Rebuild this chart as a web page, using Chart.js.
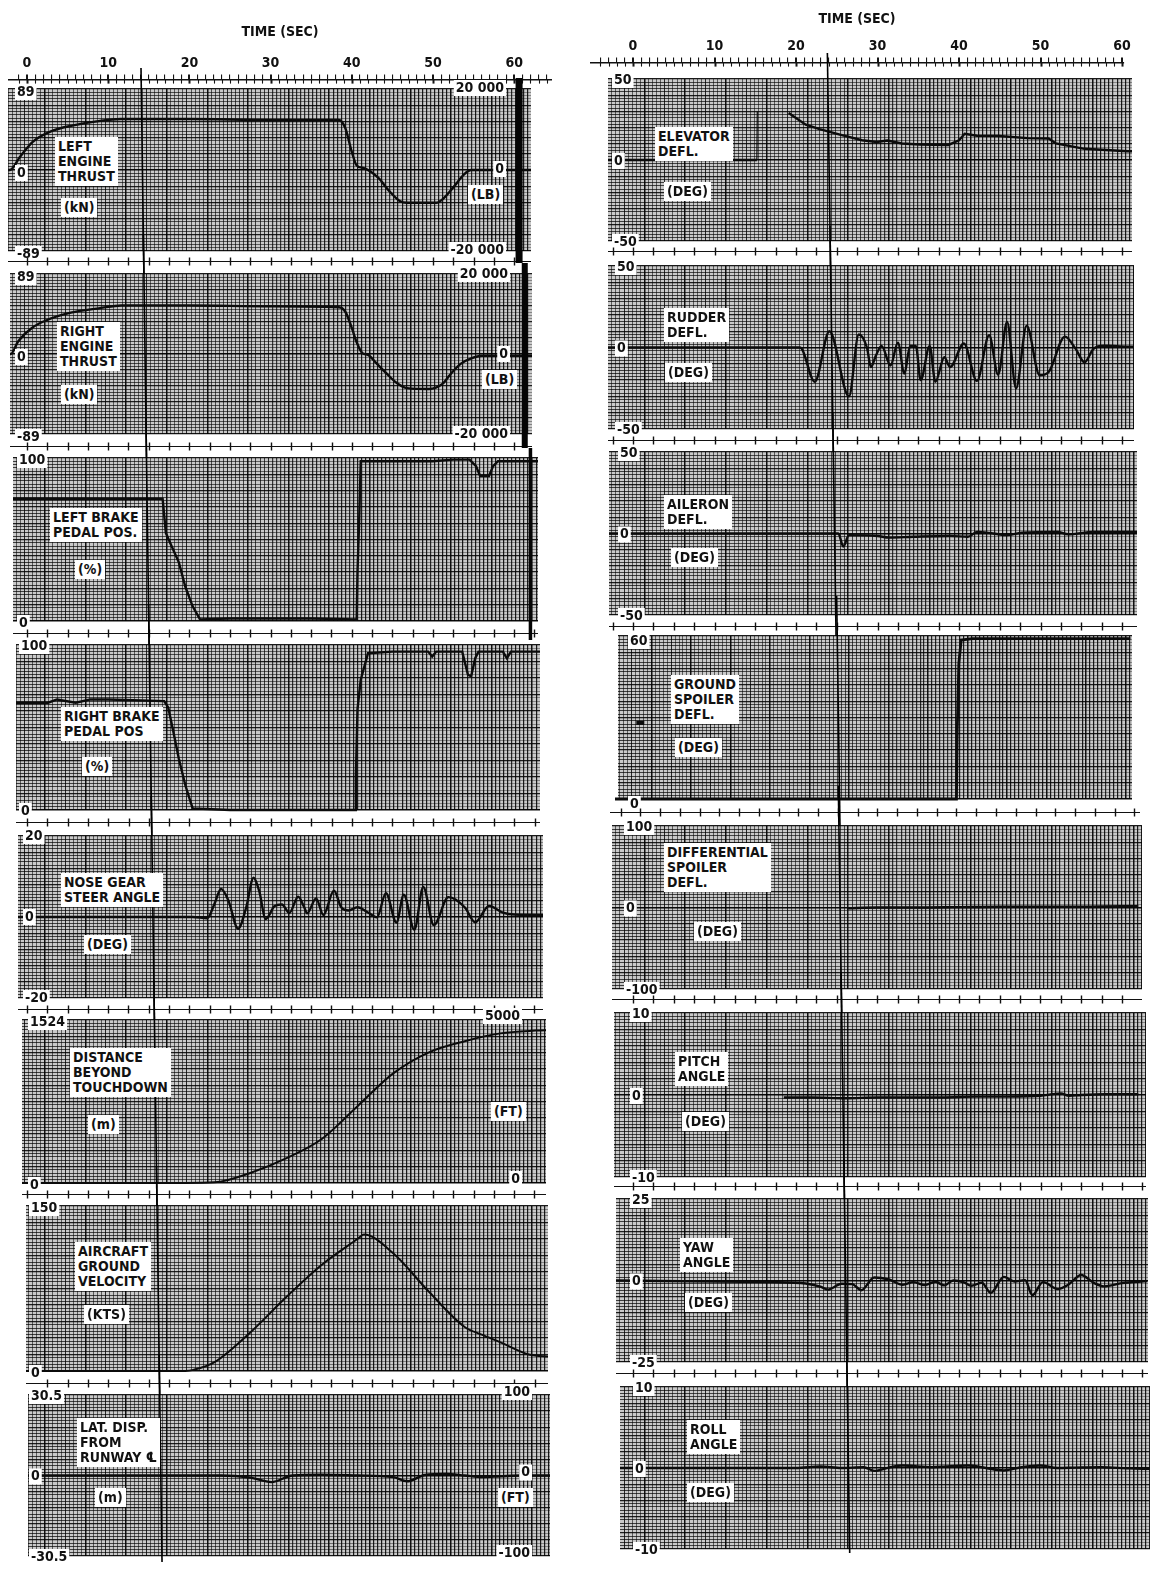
<!DOCTYPE html>
<html>
<head>
<meta charset="utf-8">
<title>Landing roll time histories</title>
<script src="https://cdn.jsdelivr.net/npm/chart.js@4.4.1/dist/chart.umd.min.js"></script>
<style>
  html, body { margin: 0; padding: 0; background: #fff; }
  body { position: relative; width: 1156px; height: 1569px; overflow: hidden; }
  canvas.trace { position: absolute; }
  .tag { position: absolute; z-index: 5; background: #fff; color: #111;
         font: bold 14px/15px 'DejaVu Sans Condensed', 'DejaVu Sans', sans-serif;
         padding: 2px 3px; white-space: pre; }
</style>
</head>
<body>
<script>
// ---- recorded channels: time (s) and channel value ----
const leftThrustTime  = [-2.4,-2.1,-0.9,0.7,2.8,5.7,9,11.5,20,30,38.4,39.2,40.0,40.6,41.5,43.3,44.6,45.9,46.8,50.4,51.2,52.6,53.8,54.7,58,64.5];
const leftThrustKN    = [0,0,14,31,42,49,54,56,56,55,55,46,20,5,2,-9,-23,-34,-36,-36,-32,-18,-5,0,0,0];
const rightThrustTime = [-2.4,-2.0,-1.1,0.6,2.8,5.4,9,11.6,20,30,38.4,39.2,40.0,40.6,41.3,42.0,42.9,44.2,45.5,46.8,49.5,51.2,52.1,53.4,54.7,56,64.5];
const rightThrustKN   = [0,0,14,29,39,46,51,54,54,53,52,47,29,13,1,-1,-9,-21,-32,-38,-39,-33,-23,-11,-5,-2,-2];
const leftBrakeTime   = [-2.4,16.7,17.1,17.8,18.7,19.5,20.4,21.3,25,30,35,40.6,40.7,40.9,41.1,45,50,52.5,54.5,55.3,55.8,56.9,57.4,58,62,64.5];
const leftBrakePct    = [75,75,54,46,36,21,9,1,1.5,1.5,1.5,1,30,60,98,98,98,99,99,95,89,89,95,98,98,98];
const rightBrakeTime  = [-2.4,2.6,3.7,6,7.8,10,16.9,17.4,18.0,18.7,19.5,20.4,25,30,35,40.4,40.5,40.7,41.1,42.0,45,49.4,49.9,50.4,53.6,54.3,54.7,55.2,55.6,58.6,59.1,59.6,64.5];
const rightBrakePct   = [65,65,67,65,67,67,66,62,48,31,15,1,0,0,0,0,20,61,79,95,96,96,93,96,96,82,81,92,96,96,92,96,96];
const noseGearTime    = [-2.4,5,10,15,20.4,22.2,23.1,23.9,24.8,26.0,27.0,27.9,28.6,29.4,30.5,31.4,32.3,33.4,34.1,34.5,35.6,36.5,37.8,38.7,39.6,40.7,42.0,43.1,44.2,45.5,46.4,47.7,48.8,50.1,51.9,53.9,55.2,56.9,58.7,60.0,64.5];
const noseGearDeg     = [0,0,0,0,0,-0.3,3.3,6.9,4.1,-2.9,2.4,9.7,6.4,-0.5,2.7,3.1,1.0,5.0,2.6,0.9,4.6,0.5,6.5,2.4,1.6,2.4,1.1,-0.1,5.9,-1.4,5.5,-3.1,7.4,-2.0,4.9,2.4,-1.3,2.7,1.0,0.6,0.5];
const distanceTime    = [-2.4,10,19.5,23.1,27.5,31.9,36.3,40.7,45.1,49.5,53.9,58.3,62.6,64.5];
const distanceM       = [0,0,0,6,94,230,411,718,1025,1222,1326,1399,1425,1430];
const groundSpeedTime = [-2.4,10,19.5,20.5,23.1,27.5,31.9,36.2,40.7,41.5,45.1,49.5,53.9,56,58.3,61.8,64.5];
const groundSpeedKts  = [0,0,0,1,8,35,67,96,120,124,107,72,40,33,26,15,13];
const latDispTime     = [-2.4,23.9,27.5,30.1,32.7,36.3,40.7,45.1,46.8,49,51.6,53.9,56.1,58.3,60.9,64.5];
const latDispM        = [0,0,-0.8,-2.5,0,0.3,0,-0.6,-2.2,0.2,0.6,0,-0.6,-0.3,0,0];

const elevatorTime    = [-3.2,5,10,15.2,15.3,19.1,21.2,22.9,25.5,28.1,29.9,31.2,33,35.2,38.7,40,40.7,42.2,44.9,48.4,51,51.9,55.4,60.7,62];
const elevatorDeg     = [0,0,0,0,null,29,21.8,19.1,15.5,12.2,11.1,12,10.2,9.6,9.3,12.2,16.2,15,14.8,13.5,13.3,10.2,6.9,5.4,5.4];
const elevatorSpikeTime = [15.2,15.25];
const elevatorSpikeDeg  = [0,30];
const rudderTime      = [-3.2,10,20.5,22.3,24.1,26.5,27.7,28.7,29.2,29.8,30.5,31.6,32.5,33.3,34,34.7,35.3,36.4,37.1,38.2,38.9,40.6,42.2,43.7,44.8,45.9,47,48.3,49.9,51,53,54.3,55.4,56.5,57.8,60.9,62];
const rudderDeg       = [0,0,0,-21,10,-30,8,0,-12,-5,1,-11,3,-16,1,1,-20,1,-21,-6,-12,2.5,-20.5,7.5,-16.6,15.6,-25,13.4,-17,-15,6.7,-0.7,-9.1,-0.8,1.1,0.5,0.5];
const aileronTime     = [-3.2,10,20,25.2,25.8,26.5,30,31.4,34.4,38.9,41.1,42.2,44.2,45.9,47.7,52.1,53.4,56.5,60.9,62];
const aileronDeg      = [0,0,0,0,-8,-1,-1.5,-2.5,-2,-1.5,-2,1,0,-1,0.5,1,-0.5,1,1,1];
const groundSpoilerTime = [-3.2,10,20,30,40.0,40.1,40.3,40.6,42,50,60,62];
const groundSpoilerDeg  = [0,0,0,0,0,25,50,58.5,59,59,59,59];
const spoilerMarkTime = [0];
const spoilerMarkDeg  = [28];
const diffSpoilerTime = [26.3,30,35,40,45,50,55,60,62];
const diffSpoilerDeg  = [-1,0,0,0.5,1,1,1,1.5,1.5];
const pitchTime       = [18.5,22,26,30,34,38,42,46,50,51.5,52.5,53.5,55,58,62];
const pitchDeg        = [-0.3,-0.3,-0.4,-0.3,-0.3,-0.3,-0.2,-0.2,-0.1,0.1,0.2,-0.1,0,0.1,0.1];
const yawTime         = [-3.2,16.8,21.2,23.0,23.9,25.6,26.9,28.0,29.6,31.4,33.1,34.4,35.8,37.1,38.2,39.3,40.6,41.5,42.8,43.9,45.5,46.8,48.1,49.0,50.3,52.1,53.4,55.0,56.5,57.8,60.0,63.1];
const yawDeg          = [0,-0.5,-0.9,-1.9,-2.8,-1.0,-1.1,-3.0,0.9,0.3,-1.3,-0.5,-1.4,-0.4,-1.5,0,-0.6,-1.6,-0.7,-3.8,1.1,-0.3,0.1,-4.5,-0.5,-2.6,-1.3,1.7,-0.7,-1.8,-0.8,-0.2];
const rollTime        = [-3.2,10,20,23.0,25.6,28.3,29.6,31.4,33.1,36.7,38.4,41.1,43.3,45.5,47.7,49.9,52.1,54.3,57.4,60.9,63.5];
const rollDeg         = [0,0,0,0.2,0,0.1,-0.35,0.05,0.3,0.1,0.2,0.3,0,-0.3,0.1,0.3,0,0.05,0.1,-0.05,-0.1];

// ---- tick values ----
const timeTickLabels = [0,10,20,30,40,50,60];
const thrustKnTicks  = [89,0,-89];
const thrustLbTicks  = [20000,0,-20000];
const brakeTicks     = [100,0];
const noseTicks      = [20,0,-20];
const distMTicks     = [1524,0];
const distFtTicks    = [5000,0];
const speedTicks     = [150,0];
const latMTicks      = [30.5,0,-30.5];
const latFtTicks     = [100,0,-100];
const deflTicks      = [50,0,-50];
const spoilerTicks   = [60,0];
const diffTicks      = [100,0,-100];
const pitchTicks     = [10,0,-10];
const yawTicks       = [25,0,-25];
const rollTicks      = [10,0,-10];

// ---- page layout ----
const PAD = 40;
const columns = {
  left:  { zeroPx: 27,  pxPerSec: 8.12, gridPhase: 2.2, cursor: { y: [68, 1562], t: [14.04, 16.63] } },
  right: { zeroPx: 633, pxPerSec: 8.15, gridPhase: 1.4, cursor: { y: [53, 1553], t: [23.85, 26.59] } }
};

const panels = [
  { col:'left', box:[8,89,531,251], range:[-89,89], t:leftThrustTime, v:leftThrustKN, smooth:true, noClip:true,
    lt:thrustKnTicks, lpad:9, loff:3, rr:[-20000,20000], rt:thrustLbTicks, rpad:27, roff:-1,
    name:['LEFT','ENGINE','THRUST'], nameAt:[55,137], unit:'(kN)', unitAt:[61,198], runit:'(LB)', runitAt:[468,185],
    strip:10, bar:{ t:60.6, w:7, from:78, to:263 } },
  { col:'left', box:[10,274,532,434], range:[-89,89], t:rightThrustTime, v:rightThrustKN, smooth:true, noClip:true,
    lt:thrustKnTicks, lpad:7, loff:3, rr:[-20000,20000], rt:thrustLbTicks, rpad:24, roff:0,
    name:['RIGHT','ENGINE','THRUST'], nameAt:[57,322], unit:'(kN)', unitAt:[61,385], runit:'(LB)', runitAt:[482,370],
    strip:12, bar:{ t:61.3, w:6, from:263, to:448 } },
  { col:'left', box:[13,458,538,621], range:[0,100], t:leftBrakeTime, v:leftBrakePct,
    lt:brakeTicks, lpad:6, loff:2,
    name:['LEFT BRAKE','PEDAL POS.'], nameAt:[50,508], unit:'(%)', unitAt:[75,560],
    strip:12, bar:{ t:62.0, w:3.5, from:448, to:640 } },
  { col:'left', box:[16,645,540,810], range:[0,100], t:rightBrakeTime, v:rightBrakePct,
    lt:brakeTicks, lpad:5, loff:1,
    name:['RIGHT BRAKE','PEDAL POS'], nameAt:[61,707], unit:'(%)', unitAt:[82,757], strip:12 },
  { col:'left', box:[18,836,543,998], range:[-20,20], t:noseGearTime, v:noseGearDeg, smooth:true,
    lt:noseTicks, lpad:7, loff:0,
    name:['NOSE GEAR','STEER ANGLE'], nameAt:[61,873], unit:'(DEG)', unitAt:[84,935], strip:11 },
  { col:'left', box:[22,1020,546,1183], range:[0,1524], t:distanceTime, v:distanceM, smooth:true, lw:2,
    lt:distMTicks, lpad:8, loff:2, rr:[0,5000], rt:distFtTicks, rpad:26, roff:-4,
    name:['DISTANCE','BEYOND','TOUCHDOWN'], nameAt:[70,1048], unit:'(m)', unitAt:[88,1115], runit:'(FT)', runitAt:[491,1102],
    strip:11 },
  { col:'left', box:[26,1206,548,1371], range:[0,150], t:groundSpeedTime, v:groundSpeedKts, smooth:true, lw:2,
    lt:speedTicks, lpad:5, loff:2,
    name:['AIRCRAFT','GROUND','VELOCITY'], nameAt:[75,1242], unit:'(KTS)', unitAt:[84,1305], strip:12 },
  { col:'left', box:[28,1395,550,1556], range:[-30.5,30.5], t:latDispTime, v:latDispM, smooth:true,
    lt:latMTicks, lpad:3, loff:1, rr:[-100,100], rt:latFtTicks, rpad:20, roff:-3,
    name:['LAT. DISP.','FROM','RUNWAY \u2104'], nameAt:[77,1418], unit:'(m)', unitAt:[95,1488], runit:'(FT)', runitAt:[498,1488],
    strip:null },

  { col:'right', box:[608,79,1132,241], range:[-50,50], t:elevatorTime, v:elevatorDeg,
    extra:{ t:elevatorSpikeTime, v:elevatorSpikeDeg, lw:1.2 },
    lt:deflTicks, lpad:6, loff:1,
    name:['ELEVATOR','DEFL.'], nameAt:[655,127], unit:'(DEG)', unitAt:[664,182], strip:10 },
  { col:'right', box:[608,266,1134,429], range:[-50,50], t:rudderTime, v:rudderDeg, smooth:true,
    lt:deflTicks, lpad:9, loff:1,
    name:['RUDDER','DEFL.'], nameAt:[664,308], unit:'(DEG)', unitAt:[665,363], strip:11 },
  { col:'right', box:[609,452,1137,615], range:[-50,50], t:aileronTime, v:aileronDeg, smooth:true,
    lt:deflTicks, lpad:11, loff:1,
    name:['AILERON','DEFL.'], nameAt:[664,495], unit:'(DEG)', unitAt:[671,548], strip:11 },
  { col:'right', box:[610,636,1140,799], range:[0,60], t:groundSpoilerTime, v:groundSpoilerDeg, lw:2.8,
    marks:{ t:spoilerMarkTime, v:spoilerMarkDeg },
    lt:spoilerTicks, lpad:12, loff:5,
    name:['GROUND','SPOILER','DEFL.'], nameAt:[671,675], unit:'(DEG)', unitAt:[675,738], strip:13 },
  { col:'right', box:[612,826,1142,989], range:[-100,100], t:diffSpoilerTime, v:diffSpoilerDeg, smooth:true,
    lt:diffTicks, lpad:14, loff:1,
    name:['DIFFERENTIAL','SPOILER','DEFL.'], nameAt:[664,843], unit:'(DEG)', unitAt:[694,922], strip:10 },
  { col:'right', box:[614,1013,1146,1177], range:[-10,10], t:pitchTime, v:pitchDeg, smooth:true,
    lt:pitchTicks, lpad:18, loff:1,
    name:['PITCH','ANGLE'], nameAt:[675,1052], unit:'(DEG)', unitAt:[682,1112], strip:9 },
  { col:'right', box:[616,1199,1148,1362], range:[-25,25], t:yawTime, v:yawDeg, smooth:true,
    lt:yawTicks, lpad:16, loff:1,
    name:['YAW','ANGLE'], nameAt:[680,1238], unit:'(DEG)', unitAt:[685,1293], strip:11 },
  { col:'right', box:[620,1387,1150,1549], range:[-10,10], t:rollTime, v:rollDeg, smooth:true,
    lt:rollTicks, lpad:15, loff:1,
    name:['ROLL','ANGLE'], nameAt:[687,1420], unit:'(DEG)', unitAt:[687,1483], strip:null }
];

const headers = [
  { col:'left',  x0:8,   x1:552,  padRight:0,  borderY:80, titleGap:11 },
  { col:'right', x0:590, x1:1140, padRight:16, borderY:63, titleGap:7 }
];

// ---- helpers ----
Chart.defaults.font.family = "'DejaVu Sans Condensed','DejaVu Sans',sans-serif";
Chart.defaults.font.size = 14;
Chart.defaults.font.weight = 'bold';
Chart.defaults.color = '#111';

const specs = new WeakMap();
const gradients = new WeakMap();

function fmtTick(v) {
  const a = Math.abs(v);
  let s = String(a);
  if (a >= 10000) s = s.replace(/\B(?=(\d{3})+(?!\d))/g, ' ');
  return (v < 0 ? '-' : '') + s;
}

function makeCanvas(left, top, w, h) {
  const cv = document.createElement('canvas');
  cv.className = 'trace';
  cv.width = Math.round(w);
  cv.height = Math.round(h);
  cv.style.left = left + 'px';
  cv.style.top = top + 'px';
  cv.style.width = Math.round(w) + 'px';
  cv.style.height = Math.round(h) + 'px';
  document.body.appendChild(cv);
  return cv;
}

function addTag(text, at) {
  const d = document.createElement('div');
  d.className = 'tag';
  d.textContent = text;
  d.style.left = at[0] + 'px';
  d.style.top = at[1] + 'px';
  document.body.appendChild(d);
}

// horizontal fine rulings fade toward later time on the recorder paper
function horizontalMinor(chart) {
  const a = chart.chartArea;
  if (!a) return 'rgba(0,0,0,0.5)';
  let g = gradients.get(chart);
  if (!g) {
    g = chart.ctx.createLinearGradient(a.left, 0, a.right, 0);
    g.addColorStop(0, 'rgba(0,0,0,0.7)');
    g.addColorStop(0.35, 'rgba(0,0,0,0.62)');
    g.addColorStop(0.7, 'rgba(0,0,0,0.38)');
    g.addColorStop(1, 'rgba(0,0,0,0.34)');
    gradients.set(chart, g);
  }
  return g;
}

// value labels sit inside the plot, so the axis itself takes no room;
// a left axis offsets its labels inward by +pad, a right axis by -pad
function labelAxis(pos, range, ticks, pad, off) {
  return {
    type: 'linear', position: pos, min: range[0], max: range[1],
    afterBuildTicks: s => { s.ticks = ticks.map(v => ({ value: v })); },
    afterFit: s => { s.width = 0; },
    grid: { display: false, drawTicks: false },
    border: { display: false },
    ticks: {
      mirror: true, padding: pos === 'right' ? -pad : pad, labelOffset: off, z: 1, autoSkip: false,
      showLabelBackdrop: true, backdropColor: '#ffffff',
      backdropPadding: { top: 1, bottom: 1, left: 2, right: 2 },
      font: { size: 14, weight: 'bold', lineHeight: 1 }, color: '#111',
      callback: v => fmtTick(v)
    }
  };
}

// paper tone, time-mark strip, event cursor and paper-edge bar for each panel
const paperDecor = {
  id: 'paperDecor',
  beforeDraw(chart) {
    const a = chart.chartArea;
    const ctx = chart.ctx;
    ctx.save();
    ctx.fillStyle = '#c9c9c9';
    ctx.fillRect(a.left, a.top, a.right - a.left, a.bottom - a.top);
    ctx.restore();
  },
  afterDraw(chart) {
    const spec = specs.get(chart.canvas);
    if (!spec) return;
    const { ctx, chartArea: a } = chart;
    const x = chart.scales.x;
    ctx.save();
    if (spec.strip != null) {
      const y = Math.round(a.bottom + spec.strip) + 0.5;
      ctx.strokeStyle = '#111';
      ctx.lineWidth = 1.2;
      ctx.beginPath(); ctx.moveTo(0, y); ctx.lineTo(chart.width, y); ctx.stroke();
      ctx.lineWidth = 1.4;
      for (let t = -2.5; t <= 65; t += 2.5) {
        const px = x.getPixelForValue(t);
        if (px < 2 || px > chart.width - 2) continue;
        const xx = Math.round(px) + 0.5;
        ctx.beginPath(); ctx.moveTo(xx, y - 4); ctx.lineTo(xx, y + 4); ctx.stroke();
      }
    }
    const cur = columns[spec.col].cursor;
    const top = spec.canvasTop;
    const ya = Math.max(0, cur.y[0] - top), yb = Math.min(chart.height, cur.y[1] - top);
    if (yb > ya) {
      const tAt = yy => cur.t[0] + (cur.t[1] - cur.t[0]) * ((yy + top) - cur.y[0]) / (cur.y[1] - cur.y[0]);
      ctx.strokeStyle = '#000';
      ctx.lineWidth = 1.6;
      ctx.beginPath();
      ctx.moveTo(x.getPixelForValue(tAt(ya)), ya);
      ctx.lineTo(x.getPixelForValue(tAt(yb)), yb);
      ctx.stroke();
    }
    if (spec.bar) {
      const px = x.getPixelForValue(spec.bar.t);
      ctx.fillStyle = '#050505';
      ctx.fillRect(px - spec.bar.w / 2, spec.bar.from - top, spec.bar.w, spec.bar.to - spec.bar.from);
    }
    ctx.restore();
  }
};

// lower halves of the time marks under the header rule
const headerMarks = {
  id: 'headerMarks',
  afterDraw(chart) {
    const x = chart.scales.x;
    const y = chart.chartArea.top;
    const ctx = chart.ctx;
    ctx.save();
    ctx.strokeStyle = '#151515';
    x.ticks.forEach(tk => {
      const px = Math.round(x.getPixelForValue(tk.value)) + 0.5;
      ctx.lineWidth = tk.value % 10 === 0 ? 2 : 1.1;
      ctx.beginPath(); ctx.moveTo(px, y); ctx.lineTo(px, y + 4); ctx.stroke();
    });
    ctx.restore();
  }
};

function buildPanel(p) {
  const col = columns[p.col];
  const [x0, y0, x1, y1] = p.box;
  const top = y0 - PAD;
  const cv = makeCanvas(x0, top, x1 - x0, (y1 - y0) + 2 * PAD);
  specs.set(cv, Object.assign({ canvasTop: top }, p));
  const tMin = (x0 - col.zeroPx) / col.pxPerSec;
  const tMax = (x1 - col.zeroPx) / col.pxPerSec;
  const [vMin, vMax] = p.range;
  const phase = col.gridPhase;

  const xLines = [];
  for (let k = Math.ceil((tMin - phase) * 2); phase + k / 2 <= tMax; k++) xLines.push(phase + k / 2);
  const yStep = (vMax - vMin) / 50;
  const yLines = [];
  for (let i = 0; i <= 50; i++) yLines.push(vMin + i * yStep);

  const scales = {
    x: {
      type: 'linear', min: tMin, max: tMax,
      afterBuildTicks: s => { s.ticks = xLines.map(v => ({ value: v })); },
      ticks: { display: false }, border: { display: false },
      grid: {
        drawTicks: false,
        color: c => {
          const t = c.tick.value;
          const k = Math.round((t - phase) * 2);
          if (k % 10 === 0) return 'rgba(0,0,0,0.92)';
          if (k % 5 === 0) return 'rgba(0,0,0,0.8)';
          const w = Math.min(1, Math.max(0, (t - 18) / 22));
          return 'rgba(0,0,0,' + (0.55 + 0.33 * w).toFixed(3) + ')';
        },
        lineWidth: c => {
          const t = c.tick.value;
          const k = Math.round((t - phase) * 2);
          if (k % 10 === 0) return 1.5;
          return t > 30 ? 1.2 : 1;
        }
      }
    },
    y: {
      type: 'linear', min: vMin, max: vMax,
      afterBuildTicks: s => { s.ticks = yLines.map(v => ({ value: v })); },
      ticks: { display: false }, border: { display: false },
      grid: {
        drawTicks: false,
        color: c => {
          const i = c.index;
          if (Math.abs(c.tick.value) < yStep / 10) return 'rgba(0,0,0,0.95)';
          if (i === 0 || i === 50) return 'rgba(0,0,0,0.9)';
          if (i % 5 === 0) return 'rgba(0,0,0,0.85)';
          return horizontalMinor(c.chart);
        },
        lineWidth: c => {
          const i = c.index;
          if (Math.abs(c.tick.value) < yStep / 10) return 1.6;
          return i % 5 === 0 ? 1.3 : 1;
        }
      }
    },
    yl: labelAxis('left', p.range, p.lt, p.lpad, p.loff)
  };
  if (p.rt) scales.yr = labelAxis('right', p.rr, p.rt, p.rpad, p.roff);

  const datasets = [{
    data: p.t.map((t, i) => ({ x: t, y: p.v[i] })),
    xAxisID: 'x', yAxisID: 'y',
    borderColor: '#0b0b0b', borderWidth: p.lw || 2.4,
    pointRadius: 0, tension: 0,
    cubicInterpolationMode: p.smooth ? 'monotone' : 'default',
    spanGaps: false, clip: p.noClip ? false : 3
  }];
  if (p.extra) {
    datasets.push({
      data: p.extra.t.map((t, i) => ({ x: t, y: p.extra.v[i] })),
      xAxisID: 'x', yAxisID: 'y',
      borderColor: '#0b0b0b', borderWidth: p.extra.lw,
      pointRadius: 0, tension: 0
    });
  }
  if (p.marks) {
    datasets.push({
      data: p.marks.t.map((t, i) => ({ x: t, y: p.marks.v[i] })),
      xAxisID: 'x', yAxisID: 'y', showLine: false,
      pointStyle: 'line', pointRadius: 4, pointBorderWidth: 4,
      pointBorderColor: '#0b0b0b', pointBackgroundColor: '#0b0b0b'
    });
  }

  new Chart(cv, {
    type: 'line',
    data: { datasets },
    options: {
      responsive: false, animation: false, devicePixelRatio: 1, events: [],
      layout: { padding: { top: PAD, bottom: PAD, left: 0, right: 0 } },
      plugins: { legend: { display: false }, tooltip: { enabled: false } },
      scales
    },
    plugins: [paperDecor]
  });
}

function buildHeader(h) {
  const col = columns[h.col];
  const axisH = 5 + 6 + 16.8 + 16.8 + h.titleGap;
  const top = h.borderY - 6 - axisH;
  const cv = makeCanvas(h.x0, top, h.x1 - h.x0, Math.ceil(6 + 2 * axisH + 6));
  const tMin = (h.x0 - col.zeroPx) / col.pxPerSec;
  const tMax = (h.x1 - h.padRight - col.zeroPx) / col.pxPerSec;
  const marks = [];
  for (let s = Math.ceil(tMin) + 1; s <= Math.floor(tMax); s++) marks.push(s);
  new Chart(cv, {
    type: 'line',
    data: { datasets: [] },
    options: {
      responsive: false, animation: false, devicePixelRatio: 1, events: [],
      layout: { padding: { top: 6, left: 0, right: h.padRight, bottom: 0 } },
      plugins: { legend: { display: false }, tooltip: { enabled: false } },
      scales: {
        x: {
          type: 'linear', position: 'top', min: tMin, max: tMax,
          afterBuildTicks: s => { s.ticks = marks.map(v => ({ value: v })); },
          ticks: {
            autoSkip: false, maxRotation: 0, minRotation: 0, padding: 3,
            font: { size: 14, weight: 'bold' }, color: '#111',
            callback: v => timeTickLabels.includes(v) ? String(v) : ''
          },
          grid: {
            drawOnChartArea: false, tickLength: 5, color: '#151515',
            lineWidth: c => (c.tick && c.tick.value % 10 === 0) ? 2 : 1.1
          },
          border: { display: true, color: '#111', width: 1.6 },
          title: {
            display: true, text: 'TIME (SEC)', color: '#111',
            padding: { top: 0, bottom: h.titleGap },
            font: { size: 14, weight: 'bold' }
          }
        },
        y: { display: false, min: 0, max: 1 }
      }
    },
    plugins: [headerMarks]
  });
}

headers.forEach(buildHeader);
panels.forEach(buildPanel);
panels.forEach(p => {
  addTag(p.name.join('\n'), p.nameAt);
  addTag(p.unit, p.unitAt);
  if (p.runit) addTag(p.runit, p.runitAt);
});
</script>
</body>
</html>
